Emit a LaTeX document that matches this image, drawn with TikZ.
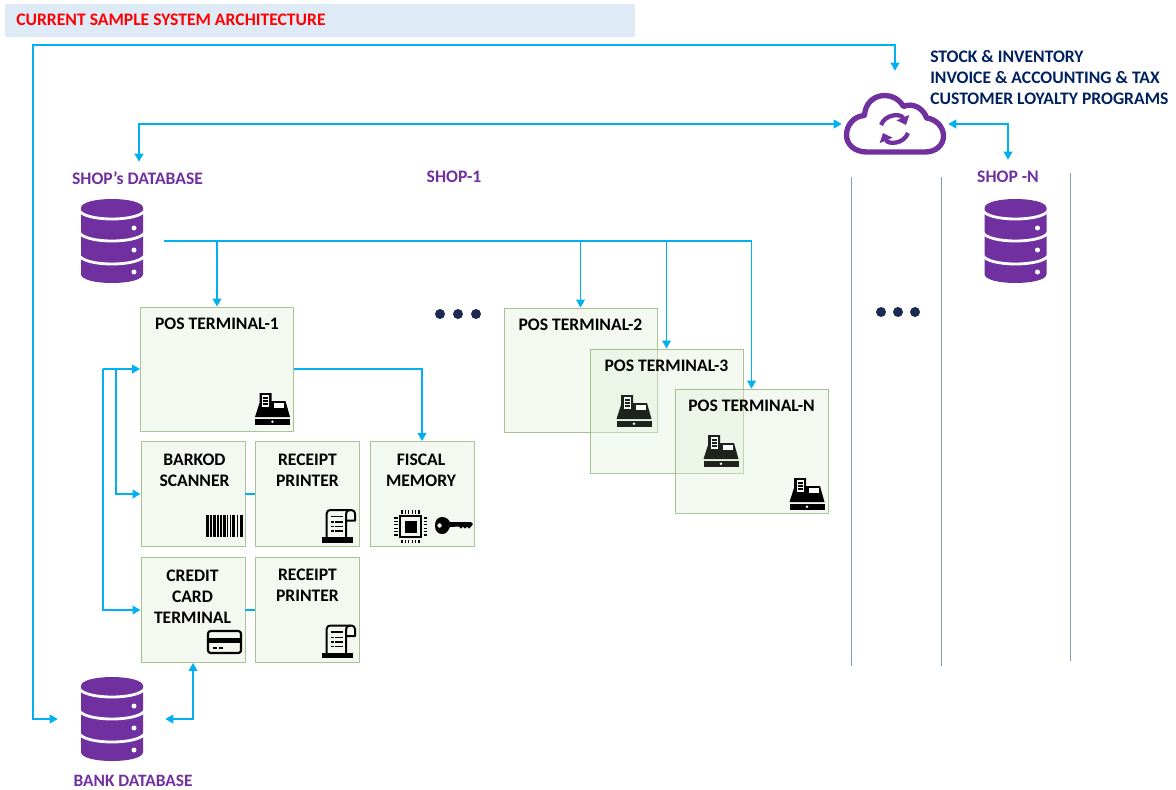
\documentclass[tikz,border=0pt]{standalone}
\usepackage{fontspec}
\setmainfont{Carlito}
\usetikzlibrary{arrows.meta}
\definecolor{cyanline}{HTML}{00B0F0}
\definecolor{purp}{HTML}{7030A0}
\definecolor{navy}{HTML}{002060}
\definecolor{boxfill}{HTML}{E2EFD9}
\definecolor{boxedge}{HTML}{8DB071}
\definecolor{sepline}{HTML}{7F9DB8}
\definecolor{dotcol}{HTML}{1B2A4E}
\definecolor{bandfill}{HTML}{DEEBF7}
\definecolor{iconblack}{HTML}{000000}
\definecolor{icondim}{HTML}{1E231E}
\def\px{.75pt}
\tikzset{
  conn/.style={draw=cyanline,line width=1.2pt,line join=miter},
  oneway/.style={conn,-{Triangle[length=6pt,width=6.5pt]}},
  twoway/.style={conn,{Triangle[length=6pt,width=6.5pt]}-{Triangle[length=6pt,width=6.5pt]}},
  devbox/.style={draw=boxedge,draw opacity=.75,line width=.7pt,fill=boxfill,fill opacity=.4,text opacity=1,inner sep=0pt},
  boxtext/.style={font=\bfseries\fontsize{13.2}{15.75}\selectfont,align=center,text=black,inner sep=0pt},
  toplabel/.style={font=\bfseries\fontsize{13.2}{15.75}\selectfont,text=purp,inner sep=0pt},
  navytext/.style={font=\bfseries\fontsize{13.2}{15.75}\selectfont,text=navy,inner sep=0pt,anchor=base west},
  anchorbox/.style={inner sep=0pt,minimum width=#1*\px},
  sepv/.style={draw=sepline,line width=.75pt},
  pics/dbicon/.style={code={
    \fill[purp] (-31,-33) .. controls (-31,-45) and (31,-45) .. (31,-33) -- (31,33) .. controls (31,45) and (-31,45) .. (-31,33) -- cycle;
    \foreach \yy in {-30,-8,15}{
      \draw[white,line width=2.1pt] (-33,\yy-1) .. controls (-28,\yy+11) and (28,\yy+11) .. (33,\yy-1);
    }
    \foreach \yy in {-13,9,31}{ \fill[white] (22,\yy) circle[radius=2.5*\px]; }
  }},
  pics/register/.style={code={
    \fill[#1] (-13,-16) -- (-1,-16) -- (-1,-8) -- (13,-8) -- (17.5,8) -- (-17.5,8) -- (-13,-6) -- cycle;
    \fill[#1] (-17.5,9.5) rectangle (17.5,16);
    \fill[white] (-10.5,-14) rectangle (-3.5,-2);
    \foreach \yy in {-11,-8,-5}{ \fill[#1] (-9.5,\yy-.8) rectangle (-4.5,\yy+.8); }
    \fill[white] (1.5,-5.7) rectangle (11.5,-1.2);
    \fill[white] (0,12.7) circle[radius=1.4*\px];
  }},
  pics/receipt/.style={code={
    \fill[iconblack] (-16.8,11.3) rectangle (14.5,16.7);
    \draw[iconblack,line width=1.5pt,line join=round] (-12,12) -- (-12,-12) .. controls (-12,-15) and (-10,-16) .. (-8,-16) -- (13,-16) .. controls (15.5,-16) and (16.5,-14) .. (16.5,-12) -- (16.5,-5.5) -- (7.5,-5.5);
    \draw[iconblack,line width=1.5pt] (7.5,12) -- (7.5,-12) .. controls (7.5,-15) and (9,-16) .. (12,-16);
    \draw[iconblack,line width=1pt] (-7.5,-9.5) -- (4,-9.5);
    \foreach \yy in {-4,0.5,5}{
      \draw[iconblack,line width=1pt] (-7.5,\yy) -- (-5,\yy);
      \draw[iconblack,line width=1pt] (-3.5,\yy) -- (4,\yy);
    }
  }},
  pics/barcode/.style={code={
    \foreach \xa/\wa in {-18.5/3,-14.4/1.6,-11.6/3,-7.4/1.6,-4.6/1.6,-1.8/3,2.2/1.6,5/1.6,7.8/3,12/1.6,15/3.4}{
      \fill[iconblack] (\xa,-11) rectangle (\xa+\wa,11);
    }
  }},
  pics/cardicon/.style={code={
    \draw[iconblack,line width=1.6pt,rounded corners=2pt] (-16.5,-11) rectangle (16.5,11);
    \fill[iconblack] (-16.5,-4.5) rectangle (16.5,1);
    \draw[iconblack,line width=1pt] (-12,6) -- (-7.5,6);
    \draw[iconblack,line width=1pt] (-5.5,6) -- (-1.5,6);
  }},
  pics/chipicon/.style={code={
    \draw[iconblack,line width=1.6pt] (-10.5,-10.5) rectangle (10.5,10.5);
    \fill[iconblack] (-6,-6) rectangle (6,6);
    \foreach \pp in {-8.5,-5.1,-1.7,1.7,5.1,8.5}{
      \draw[iconblack,line width=.9pt] (\pp,-16.5) -- (\pp,-13);
      \draw[iconblack,line width=.9pt] (\pp,13) -- (\pp,16.5);
      \draw[iconblack,line width=.9pt] (-16.5,\pp) -- (-13,\pp);
      \draw[iconblack,line width=.9pt] (13,\pp) -- (16.5,\pp);
    }
  }},
  pics/keyicon/.style={code={
    \fill[iconblack] (0,-8.5) .. controls (5,-8.5) and (7,-5) .. (8,-3.5) -- (29,-3.5) -- (31,-1.5) -- (29,1) -- (27,3) -- (25,1) -- (23,3) -- (21,1) -- (19,3) -- (17,1) -- (8,1.5) .. controls (6,5) and (5,8.5) .. (0,8.5) .. controls (-4.5,8.5) and (-7,5) .. (-7,0) .. controls (-7,-5) and (-4.5,-8.5) .. (0,-8.5) -- cycle;
    \fill[white] (-2.5,0) circle[radius=2.2*\px];
  }}
}
\begin{document}
\begin{tikzpicture}[x=.75pt,y=-.75pt]
\useasboundingbox (0,0) rectangle (1176,789);

% header
\fill[bandfill] (5,4) rectangle (635,36.5);
\node[font=\bfseries\fontsize{13.2}{15}\selectfont,text=red,anchor=base west,inner sep=0pt] (title) at (16,25.5) {CURRENT SAMPLE SYSTEM ARCHITECTURE};

% separators
\coordinate (s1a) at (851,177); \coordinate (s1b) at (851,666);
\coordinate (s2a) at (941,177); \coordinate (s2b) at (941,666);
\coordinate (s3a) at (1070,173); \coordinate (s3b) at (1070,661);
\draw[sepv] (s1a) -- (s1b);
\draw[sepv] (s2a) -- (s2b);
\draw[sepv] (s3a) -- (s3b);

% boxes
\node[devbox,minimum width=153*\px,minimum height=124*\px] (pos1) at (217,369) {};
\node[devbox,minimum width=153*\px,minimum height=124*\px] (pos2) at (580.5,370) {};
\node[devbox,minimum width=153*\px,minimum height=124*\px] (pos3) at (666.5,411) {};
\node[devbox,minimum width=153*\px,minimum height=124*\px] (posn) at (751.5,451) {};
\pic at (634,411) {register={icondim}};
\pic at (721,451) {register={icondim}};
\pic at (807,494) {register={black}};
\pic at (272.5,409) {register={black}};
\node[devbox,minimum width=104*\px,minimum height=105*\px] (barkod) at (193,494) {};
\node[devbox,minimum width=104*\px,minimum height=105*\px] (rcpa) at (307,494) {};
\node[devbox,minimum width=104*\px,minimum height=105*\px] (fiscal) at (422,494) {};
\node[devbox,minimum width=104*\px,minimum height=105*\px] (credit) at (193,610) {};
\node[devbox,minimum width=104*\px,minimum height=105*\px] (rcpb) at (307,610) {};

% box texts
\node[boxtext] (t1) at (217,323.5) {POS TERMINAL-1};
\node[boxtext] (t2) at (580.5,324.5) {POS TERMINAL-2};
\node[boxtext] (t3) at (666.5,365.5) {POS TERMINAL-3};
\node[boxtext] (tn) at (751.5,405.5) {POS TERMINAL-N};
\node[boxtext] (tb) at (194.5,470) {BARKOD\\SCANNER};
\node[boxtext] (tr1) at (307.5,470) {RECEIPT\\PRINTER};
\node[boxtext] (tf) at (421,470) {FISCAL\\MEMORY};
\node[boxtext] (tc) at (192.5,596.5) {CREDIT\\CARD\\TERMINAL};
\node[boxtext] (tr2) at (307.5,585.5) {RECEIPT\\PRINTER};

% icons
\pic at (224.5,526) {barcode};
\pic at (338.5,526) {receipt};
\pic at (338.5,641.5) {receipt};
\pic at (224.5,642) {cardicon};
\pic at (410.5,526.5) {chipicon};
\pic at (442,525.5) {keyicon};

% databases
\pic at (112,241) {dbicon};
\pic at (1015.5,241) {dbicon};
\pic at (112,719) {dbicon};
\node[anchorbox=107,minimum height=84*\px] (bankdb) at (111.5,719) {};

% cloud
\draw[purp,line width=4pt,line join=round,fill=white]
  (867,152) -- (925,152)
  .. controls (936,152) and (943.5,145) .. (943.5,136)
  .. controls (943.5,127) and (936,119) .. (926.5,118)
  .. controls (924,109) and (913,102) .. (903.5,106.5)
  .. controls (899,99) and (892,95.5) .. (885,95.5)
  .. controls (873,95.5) and (865,104) .. (864.5,115.5)
  .. controls (854,116) and (846.5,125) .. (846.5,135)
  .. controls (846.5,145) and (855,152) .. (867,152) -- cycle;
\draw[purp,line width=3.2pt,-{Triangle[length=6pt,width=10pt]}] (881,125) .. controls (885,114) and (901,113) .. (906,125);
\draw[purp,line width=3.2pt,-{Triangle[length=6pt,width=10pt]}] (908,133) .. controls (904,144) and (888,145) .. (883,133);
\node[anchorbox=106,minimum height=106*\px] (cloud) at (895,124) {};

% labels
\node[toplabel,minimum height=32*\px] (shopdb) at (137.5,178) {SHOP’s DATABASE};
\node[toplabel] (shop1) at (454,177) {SHOP-1};
\node[toplabel,minimum height=34*\px] (shopn) at (1008,177) {SHOP -N};
\node[toplabel,font=\bfseries\fontsize{13}{14}\selectfont] (bankl) at (133,781) {BANK DATABASE};
\node[navytext] (n1) at (930,62.5) {STOCK \& INVENTORY};
\node[navytext] (n2) at (930,83.5) {INVOICE \& ACCOUNTING \& TAX};
\node[navytext] (n3) at (930,104.5) {CUSTOMER LOYALTY PROGRAMS};

% ellipsis dots
\foreach \xx in {440,458,476}{ \fill[dotcol] (\xx,314) circle[radius=5*\px]; }
\foreach \xx in {881,898,915}{ \fill[dotcol] (\xx,312) circle[radius=5*\px]; }

% connectors
\coordinate (topl) at (33,45);
\coordinate (topr) at (895,45);
\coordinate (busstart) at (164,241);
\coordinate (pa) at (116,369);
\coordinate (pb) at (103,369);
\draw[twoway] (bankdb.west) -| (topl) -- (topr) -- (cloud.north);
\draw[twoway] (cloud.west) -| ([xshift=1.1pt]shopdb.north);
\draw[twoway] (cloud.east) -| (shopn.north);
\draw[twoway] (bankdb.east) -| (credit.south);
\draw[conn] (busstart) -- (busstart -| posn.north);
\draw[oneway] (busstart -| pos1.north) -- (pos1.north);
\draw[oneway] (busstart -| pos2.north) -- (pos2.north);
\draw[oneway] (busstart -| pos3.north) -- (pos3.north);
\draw[oneway] (busstart -| posn.north) -- (posn.north);
\draw[oneway] (pos1.east) -| (fiscal.north);
\draw[oneway] (pb) -- (pos1.west);
\draw[oneway] (pb) |- (credit.west);
\draw[oneway] (pa) |- (barkod.west);
\draw[conn] (barkod.east) -- (rcpa.west);
\draw[conn] (credit.east) -- (rcpb.west);
\end{tikzpicture}
\end{document}
